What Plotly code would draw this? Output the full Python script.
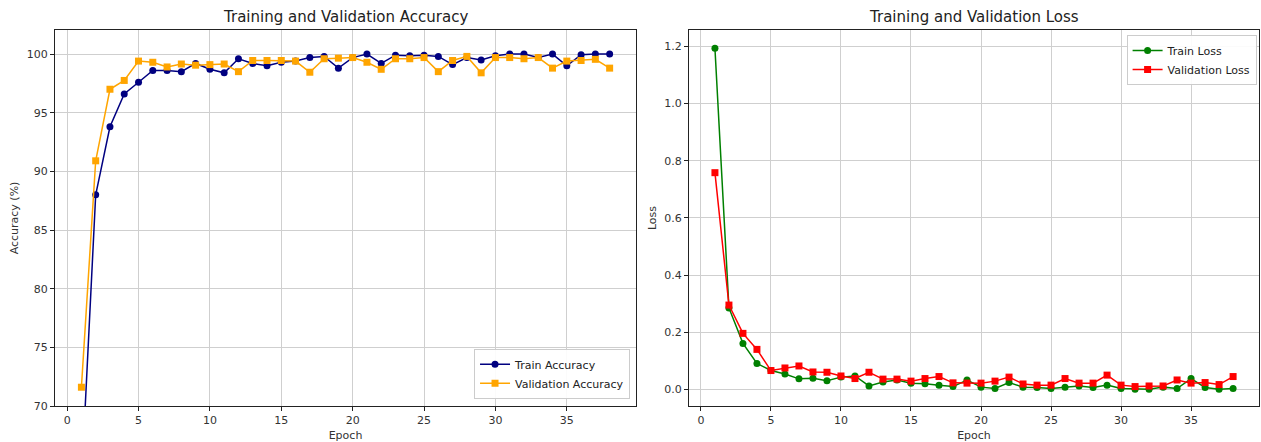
import plotly.graph_objects as go
from plotly.subplots import make_subplots

epochs = list(range(1, 39))

train_acc = [63.4, 88.0, 93.8, 96.6, 97.6, 98.6, 98.6, 98.5, 99.2, 98.7,
             98.4, 99.6, 99.2, 99.0, 99.3, 99.4, 99.7, 99.8, 98.8, 99.7,
             100.0, 99.2, 99.9, 99.85, 99.9, 99.8, 99.1, 99.7, 99.5, 99.85,
             100.0, 100.0, 99.7, 100.0, 99.0, 99.95, 100.0, 100.0]
val_acc = [71.6, 90.9, 97.0, 97.75, 99.4, 99.3, 98.9, 99.15, 99.05, 99.1,
           99.15, 98.5, 99.45, 99.45, 99.45, 99.4, 98.45, 99.6, 99.65, 99.7,
           99.3, 98.7, 99.6, 99.6, 99.7, 98.5, 99.45, 99.8, 98.4, 99.7,
           99.7, 99.6, 99.7, 98.8, 99.4, 99.45, 99.55, 98.8]

train_loss = [1.193, 0.285, 0.161, 0.091, 0.066, 0.054, 0.037, 0.039, 0.030, 0.043,
              0.047, 0.012, 0.026, 0.033, 0.022, 0.020, 0.015, 0.010, 0.033, 0.008,
              0.003, 0.024, 0.008, 0.007, 0.003, 0.008, 0.012, 0.007, 0.015, 0.003,
              0.001, 0.001, 0.008, 0.003, 0.038, 0.007, 0.001, 0.003]
val_loss = [0.758, 0.295, 0.196, 0.140, 0.066, 0.075, 0.082, 0.061, 0.060, 0.047,
            0.038, 0.060, 0.036, 0.036, 0.029, 0.038, 0.045, 0.023, 0.022, 0.022,
            0.029, 0.043, 0.019, 0.015, 0.015, 0.038, 0.022, 0.022, 0.050, 0.015,
            0.010, 0.012, 0.012, 0.033, 0.022, 0.024, 0.017, 0.045]

FONT = "DejaVu Sans"

fig = make_subplots(rows=1, cols=2, horizontal_spacing=0.044)

fig.add_trace(go.Scatter(x=epochs, y=train_acc, mode="lines+markers", name="Train Accuracy",
                         line=dict(color="#000080", width=1.5),
                         marker=dict(symbol="circle", size=7, color="#000080"),
                         legend="legend"), row=1, col=1)
fig.add_trace(go.Scatter(x=epochs, y=val_acc, mode="lines+markers", name="Validation Accuracy",
                         line=dict(color="#FFA500", width=1.5),
                         marker=dict(symbol="square", size=7, color="#FFA500"),
                         legend="legend"), row=1, col=1)
fig.add_trace(go.Scatter(x=epochs, y=train_loss, mode="lines+markers", name="Train Loss",
                         line=dict(color="#008000", width=1.5),
                         marker=dict(symbol="circle", size=7, color="#008000"),
                         legend="legend2"), row=1, col=2)
fig.add_trace(go.Scatter(x=epochs, y=val_loss, mode="lines+markers", name="Validation Loss",
                         line=dict(color="#FF0000", width=1.5),
                         marker=dict(symbol="square", size=7, color="#FF0000"),
                         legend="legend2"), row=1, col=2)

axis_common = dict(showline=True, linecolor="#222", linewidth=1, mirror=True,
                   showgrid=True, gridcolor="#cfcfcf", gridwidth=1,
                   ticks="outside", ticklen=4, tickcolor="#222",
                   tickfont=dict(family=FONT, size=11, color="#333"),
                   zeroline=False)

fig.update_xaxes(**axis_common, range=[-0.85, 39.85], tickvals=[0, 5, 10, 15, 20, 25, 30, 35],
                 title=dict(text="Epoch", font=dict(family=FONT, size=11, color="#333"), standoff=6))
fig.update_yaxes(**axis_common)
fig.update_yaxes(range=[70, 102.05], tickvals=[70, 75, 80, 85, 90, 95, 100],
                 title=dict(text="Accuracy (%)", font=dict(family=FONT, size=11, color="#333"), standoff=5),
                 row=1, col=1)
fig.update_yaxes(range=[-0.058, 1.257], tickvals=[0, 0.2, 0.4, 0.6, 0.8, 1.0, 1.2], tickformat=".1f",
                 title=dict(text="Loss", font=dict(family=FONT, size=11, color="#333"), standoff=5),
                 row=1, col=2)

fig.update_layout(
    width=1261, height=442,
    margin=dict(l=55, r=2, t=30, b=36),
    xaxis=dict(domain=[0, 0.4826]),
    xaxis2=dict(domain=[0.5266, 1]),
    plot_bgcolor="white", paper_bgcolor="white",
    font=dict(family=FONT, size=11, color="#333"),
    legend=dict(x=0.4776, y=0.019, xanchor="right", yanchor="bottom",
                bgcolor="rgba(255,255,255,0.9)", bordercolor="#cccccc", borderwidth=1,
                font=dict(family=FONT, size=11, color="#222"), tracegroupgap=0, itemwidth=30),
    legend2=dict(x=0.998, y=0.987, xanchor="right", yanchor="top",
                 bgcolor="rgba(255,255,255,0.9)", bordercolor="#cccccc", borderwidth=1,
                 font=dict(family=FONT, size=11, color="#222"), tracegroupgap=0, itemwidth=30),
    annotations=[
        dict(text="Training and Validation Accuracy", xref="x domain", yref="paper",
             x=0.5, y=1, xanchor="center", yanchor="bottom", yshift=2, showarrow=False,
             font=dict(family=FONT, size=15, color="#222")),
        dict(text="Training and Validation Loss", xref="x2 domain", yref="paper",
             x=0.5, y=1, xanchor="center", yanchor="bottom", yshift=2, showarrow=False,
             font=dict(family=FONT, size=15, color="#222")),
    ],
)

fig.write_html("out.html", config={"displayModeBar": False},
               post_script="document.body.style.margin='0';")
